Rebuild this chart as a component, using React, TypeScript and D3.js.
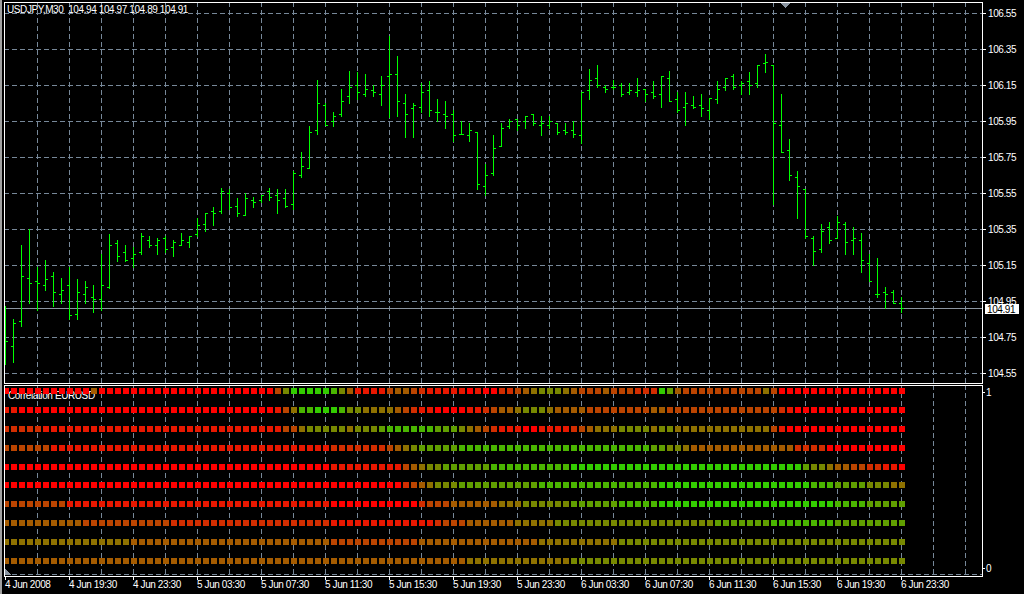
import React from "react";
import * as d3 from "d3";

const W = 1024;
const H = 594;

// ---- price data (USDJPY M30), bar 0 = 4 Jun 2008 15:30 ----
const opens = [
  104.66, 104.70, 104.84, 105.08, 105.06, 105.04, 105.09, 104.99, 105.04, 104.88,
  104.99, 104.97, 104.96, 105.03, 105.27, 105.22, 105.19, 105.22, 105.29, 105.26,
  105.30, 105.25, 105.26, 105.28, 105.32, 105.38, 105.45, 105.45, 105.55, 105.48,
  105.43, 105.51, 105.51, 105.56, 105.54, 105.52, 105.49, 105.65, 105.69, 105.90,
  106.04, 105.95, 105.99, 106.09, 106.15, 106.10, 106.12, 106.10, 106.20, 106.21,
  106.05, 106.02, 106.03, 106.12, 106.00, 105.99, 105.99, 105.88, 105.87, 105.89,
  105.59, 105.66, 105.81, 105.92, 105.96, 105.95, 105.99, 105.93, 105.93, 105.94,
  105.90, 105.90, 105.87, 106.12, 106.19, 106.14, 106.14, 106.15, 106.11, 106.11,
  106.13, 106.11, 106.10, 106.19, 106.07, 106.03, 106.04, 106.04, 106.01, 106.07,
  106.14, 106.20, 106.15, 106.17, 106.16, 106.27, 106.26, 105.93, 105.79, 105.64,
  105.57, 105.30, 105.24, 105.36, 105.30, 105.38, 105.29, 105.29, 105.16, 104.99,
  105.00, 105.00, 104.94,
];
const highs = [
  104.92, 104.85, 105.26, 105.35, 105.14, 105.18, 105.11, 105.08, 105.14, 105.07,
  105.06, 105.04, 105.21, 105.32, 105.29, 105.26, 105.25, 105.33, 105.31, 105.30,
  105.31, 105.29, 105.33, 105.31, 105.41, 105.44, 105.47, 105.58, 105.57, 105.52,
  105.55, 105.53, 105.54, 105.58, 105.57, 105.57, 105.67, 105.78, 105.92, 106.18,
  106.05, 106.00, 106.13, 106.23, 106.22, 106.21, 106.15, 106.20, 106.42, 106.31,
  106.10, 106.05, 106.16, 106.17, 106.07, 106.06, 106.01, 105.95, 105.94, 105.89,
  105.71, 105.87, 105.94, 105.96, 105.96, 105.98, 105.99, 105.98, 105.98, 105.94,
  105.94, 105.95, 106.11, 106.24, 106.26, 106.15, 106.18, 106.16, 106.16, 106.19,
  106.13, 106.17, 106.20, 106.23, 106.11, 106.11, 106.09, 106.10, 106.08, 106.17,
  106.19, 106.21, 106.17, 106.22, 106.26, 106.32, 106.26, 106.10, 105.85, 105.67,
  105.57, 105.31, 105.38, 105.39, 105.42, 105.39, 105.36, 105.33, 105.21, 105.19,
  105.03, 105.01, 104.97,
];
const lows = [
  104.60, 104.61, 104.81, 104.94, 104.90, 105.01, 104.92, 104.94, 104.85, 104.85,
  104.94, 104.89, 104.90, 105.02, 105.17, 105.17, 105.14, 105.21, 105.25, 105.21,
  105.22, 105.20, 105.26, 105.25, 105.31, 105.34, 105.37, 105.44, 105.46, 105.42,
  105.43, 105.47, 105.50, 105.51, 105.44, 105.47, 105.46, 105.64, 105.69, 105.88,
  105.93, 105.92, 105.98, 106.05, 106.07, 106.09, 106.09, 106.04, 105.97, 105.98,
  105.86, 105.86, 106.00, 105.98, 105.95, 105.91, 105.84, 105.88, 105.84, 105.57,
  105.54, 105.65, 105.81, 105.91, 105.90, 105.91, 105.93, 105.87, 105.91, 105.88,
  105.88, 105.86, 105.83, 106.07, 106.14, 106.11, 106.13, 106.09, 106.10, 106.09,
  106.06, 106.08, 106.03, 106.06, 106.00, 105.93, 106.02, 105.98, 105.96, 106.05,
  106.12, 106.13, 106.10, 106.10, 106.14, 106.22, 105.49, 105.78, 105.62, 105.41,
  105.30, 105.15, 105.22, 105.27, 105.30, 105.21, 105.21, 105.11, 105.06, 104.97,
  104.91, 104.94, 104.89,
];
const closes = [
  104.73, 104.83, 105.09, 105.05, 105.05, 105.07, 105.00, 105.01, 104.87, 105.00,
  105.03, 104.96, 105.04, 105.26, 105.20, 105.18, 105.21, 105.31, 105.26, 105.29,
  105.24, 105.28, 105.29, 105.31, 105.37, 105.44, 105.44, 105.56, 105.47, 105.44,
  105.52, 105.50, 105.54, 105.53, 105.51, 105.48, 105.66, 105.70, 105.89, 106.05,
  105.93, 105.98, 106.06, 106.14, 106.11, 106.13, 106.11, 106.15, 106.21, 106.06,
  105.99, 106.04, 106.11, 106.01, 106.00, 105.98, 105.87, 105.88, 105.90, 105.60,
  105.65, 105.80, 105.91, 105.95, 105.93, 105.98, 105.94, 105.94, 105.95, 105.89,
  105.89, 105.88, 106.11, 106.18, 106.15, 106.13, 106.14, 106.10, 106.12, 106.12,
  106.10, 106.09, 106.20, 106.06, 106.01, 106.05, 106.03, 106.02, 106.08, 106.13,
  106.19, 106.14, 106.16, 106.15, 106.26, 106.28, 105.94, 105.78, 105.65, 105.59,
  105.31, 105.23, 105.34, 105.29, 105.39, 105.28, 105.30, 105.18, 105.06, 104.99,
  104.99, 104.94, 104.91,
];

const priceTicks = [106.55, 106.35, 106.15, 105.95, 105.75, 105.55, 105.35, 105.15, 104.95, 104.75, 104.55];
const lastPrice = 104.91;
const titleText = "USDJPY,M30  104.94 104.97 104.89 104.91";

const timeTickBars = [0, 8, 16, 24, 32, 40, 48, 56, 64, 72, 80, 88, 96, 104, 112];
const timeTickLabels = [
  "4 Jun 2008", "4 Jun 19:30", "4 Jun 23:30", "5 Jun 03:30", "5 Jun 07:30",
  "5 Jun 11:30", "5 Jun 15:30", "5 Jun 19:30", "5 Jun 23:30", "6 Jun 03:30",
  "6 Jun 07:30", "6 Jun 11:30", "6 Jun 15:30", "6 Jun 19:30", "6 Jun 23:30",
];

// ---- correlation panel: level 0 (red, negative) .. 9 (green, positive) per bar ----
const corrRow1 = "00000000000" + "4" + "0000000000000000000000" + "3699999864" + "1111" + "3443" + "2" + "11111" + "0100" + "22" + "3456665" + "4333" + "4333" + "222" + "974" + "3333333333" + "53" + "0000000000000000";
const corrRow2 = "11" + "00000000000000000000000000000000" + "1" + "358899" + "986655554321" + "100001" + "12344566654444" + "33333333" + "443" + "3333333333333" + "21" + "00000000000000";
const corrRow3 = "22222" + "111111111111111111111111111111" + "335666" + "665666" + "7888888777" + "654321" + "110011112" + "345" + "5566665665" + "55555555555" + "3" + "1" + "000000000000000";
const corrRow4 = "333333" + "11111111111111111111111111111111111" + "2222222" + "3456" + "77777" + "888888888888888888888888" + "77" + "66" + "5" + "4444444444444" + "2222" + "0000000000";
const corrRow5 = "00000000000000000000000000000000000000000" + "111111111" + "3" + "4" + "5" + "66" + "777777" + "8888888888" + "99999999999999999999999999999" + "7665443322110";
const corrRow6 = "00000000000000000000000000000000000000000" + "000000000" + "2" + "3" + "4" + "5" + "666" + "7777777777" + "888888888888888" + "9999999999999999999" + "888" + "7777" + "666" + "55";
const corrRow7 = "33333333" + "111111111111111111111111111111111" + "00000000000" + "2" + "333" + "444444" + "555" + "666666" + "777777" + "88888" + "9999999999999999999999" + "8888" + "77777";
const corrRow8 = "4444444444" + "33333333333" + "22222222222222222222" + "1111111111111" + "2" + "333" + "444444" + "55555" + "66666666666666666666" + "7777777" + "88888888" + "777777777";
const corrRow9 = "5555555555555555" + "4444444444444444444444444" + "33333333333" + "444444444444444" + "5555555555" + "666666666666666666666666666666666666";
const corrRow10 = "4444444444444444444444444444444444444444444444444444444444" + "5555555555555" + "666666666666666666666666666666666666666666";
const corrRows = [corrRow1, corrRow2, corrRow3, corrRow4, corrRow5, corrRow6, corrRow7, corrRow8, corrRow9, corrRow10];
const corrTitle = "Correlation EURUSD";
const corrAxisLabels = ["1", "0"];

const FONT = "'Liberation Sans', Arial, sans-serif";
const GRID = "#778899";

export default function App() {
  const nBars = opens.length;
  const x = d3.scaleLinear().domain([0, nBars - 1]).range([5, 901]);
  const y = d3.scaleLinear().domain([104.55, 106.55]).range([373, 13]);
  const rowY = d3.scaleLinear().domain([0, corrRows.length - 1]).range([391, 561]);
  const corrY = d3.scaleLinear().domain([0, 1]).range([568, 392]);
  const color = d3
    .scaleLinear<string>()
    .domain([0, 9])
    .range(["#ff0000", "#33cc00"])
    .interpolate(d3.interpolateRgb);

  const mainTop = 2, mainBottom = 383, left = 4, right = 982;
  const indTop = 385, indBottom = 576;
  const gridBars = d3.range(4, 121, 4);
  const px = (i: number) => Math.round(x(i));
  const py = (p: number) => Math.round(y(p));

  const textStyle = { fontFamily: FONT, fontSize: 10, letterSpacing: -0.4, whiteSpace: "pre" } as React.CSSProperties;

  return (
    <div style={{ position: "absolute", left: 0, top: 0, width: W, height: H, background: "#000" }}>
      <svg width={W} height={H} style={{ display: "block" }} shapeRendering="crispEdges">
        <rect x={0} y={0} width={W} height={H} fill="#000" />
        <rect x={0} y={0} width={2} height={H} fill="#a0a0a0" />

        {/* ===== main panel ===== */}
        <clipPath id="mainClip">
          <rect x={left + 1} y={mainTop + 1} width={right - left - 1} height={mainBottom - mainTop - 1} />
        </clipPath>
        <g clipPath="url(#mainClip)">
          {priceTicks.map((p) => (
            <line key={"hg" + p} x1={left} x2={right} y1={py(p) + 0.5} y2={py(p) + 0.5} stroke={GRID} strokeDasharray="5,3" />
          ))}
          {gridBars.map((b) => (
            <line key={"vg" + b} x1={px(b) + 0.5} x2={px(b) + 0.5} y1={mainTop} y2={mainBottom} stroke={GRID} strokeDasharray="5,3" />
          ))}
          <line x1={left} x2={right} y1={py(lastPrice) + 0.5} y2={py(lastPrice) + 0.5} stroke="#8a95a1" />
          {opens.map((o, i) => {
            const cx = px(i);
            return (
              <g key={"b" + i} fill="#00ff00">
                <rect x={cx} y={py(highs[i])} width={1} height={py(lows[i]) - py(highs[i]) + 1} />
                <rect x={cx - 2} y={py(o)} width={2} height={1} />
                <rect x={cx + 1} y={py(closes[i])} width={2} height={1} />
              </g>
            );
          })}
          <polygon points="781,3 790,3 785.5,8" fill="#8a95a1" />
        </g>
        <text x={7} y={13} fill="#fff" xmlSpace="preserve" style={textStyle}>{titleText}</text>

        {/* price axis */}
        {priceTicks.map((p) => (
          <g key={"pt" + p}>
            <line x1={right} x2={right + 4} y1={py(p) + 0.5} y2={py(p) + 0.5} stroke="#fff" />
            <text x={988} y={py(p) + 4} fill="#fff" style={textStyle}>{p.toFixed(2)}</text>
          </g>
        ))}
        <rect x={985} y={py(lastPrice) - 4} width={34} height={10} fill="#fff" />
        <text x={987} y={py(lastPrice) + 5} fill="#000" style={textStyle}>{lastPrice.toFixed(2)}</text>

        <rect x={left + 0.5} y={mainTop + 0.5} width={right - left} height={mainBottom - mainTop} fill="none" stroke="#fff" />

        {/* ===== correlation panel ===== */}
        <clipPath id="indClip">
          <rect x={left + 1} y={indTop + 1} width={right - left - 1} height={indBottom - indTop - 1} />
        </clipPath>
        <g clipPath="url(#indClip)">
          {gridBars.map((b) => (
            <line key={"ivg" + b} x1={px(b) + 0.5} x2={px(b) + 0.5} y1={indTop} y2={indBottom} stroke={GRID} strokeDasharray="5,3" />
          ))}
          <line x1={left} x2={right} y1={indBottom - 1.5} y2={indBottom - 1.5} stroke={GRID} strokeDasharray="5,3" />
          <polygon points="5,569 5,575 11,575" fill="#8a95a1" />
          <text x={8} y={399} fill="#fff" style={textStyle}>{corrTitle}</text>
          {corrRows.map((row, r) =>
            row.split("").map((ch, i) => (
              <rect
                key={"c" + r + "_" + i}
                x={px(i) - 2}
                y={Math.round(rowY(r)) - 3}
                width={6}
                height={6}
                fill={color(Number(ch))}
              />
            ))
          )}
        </g>
        <rect x={left + 0.5} y={indTop + 0.5} width={right - left} height={indBottom - indTop} fill="none" stroke="#fff" />
        {corrAxisLabels.map((lab) => {
          const v = Number(lab);
          return (
            <g key={"ia" + lab}>
              <line x1={right} x2={right + 3} y1={Math.round(corrY(v)) + 0.5} y2={Math.round(corrY(v)) + 0.5} stroke="#fff" />
              <text x={986} y={Math.round(corrY(v)) + 4} fill="#fff" style={textStyle}>{lab}</text>
            </g>
          );
        })}

        {/* time axis */}
        {timeTickBars.map((b, k) => (
          <g key={"tt" + b}>
            <line x1={px(b) + 0.5} x2={px(b) + 0.5} y1={indBottom + 1} y2={indBottom + 4} stroke="#fff" />
            <text x={px(b)} y={588} fill="#fff" style={textStyle}>{timeTickLabels[k]}</text>
          </g>
        ))}
      </svg>
    </div>
  );
}
